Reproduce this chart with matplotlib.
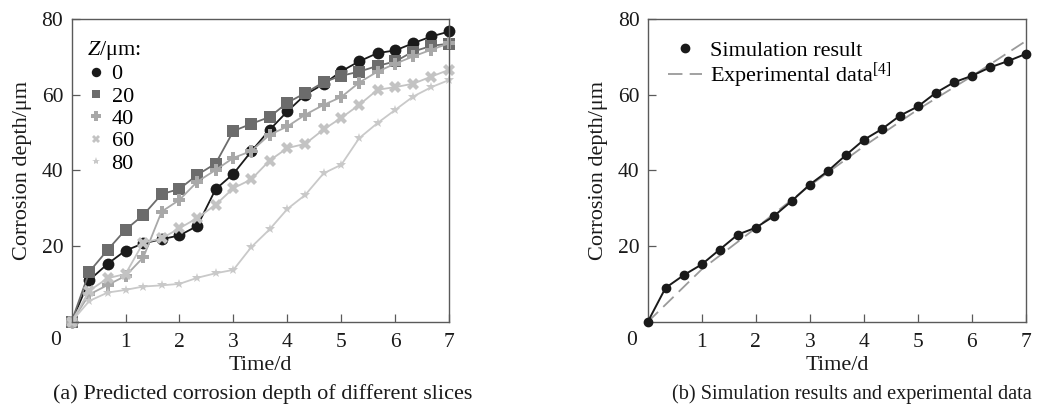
import numpy as np
import matplotlib
matplotlib.use("Agg")
import matplotlib.pyplot as plt
from matplotlib.lines import Line2D
from matplotlib.transforms import ScaledTranslation

plt.rcParams['font.family'] = ['Liberation Serif', 'DejaVu Serif']
plt.rcParams['mathtext.fontset'] = 'custom'
plt.rcParams['mathtext.rm'] = 'Liberation Serif'
plt.rcParams['mathtext.it'] = 'Liberation Serif:italic'

# ---- data ----
time_d = [0, 0.33, 0.67, 1, 1.33, 1.67, 2, 2.33, 2.67, 3, 3.33, 3.67,
          4, 4.33, 4.67, 5, 5.33, 5.67, 6, 6.33, 6.67, 7]

z0 = [0, 11.0, 15.3, 18.8, 20.7, 21.8, 22.8, 25.3, 35.0, 39.1, 45.0, 50.7,
      55.6, 60.0, 62.8, 66.2, 68.8, 71.0, 71.7, 73.6, 75.4, 76.7]
z20 = [0, 13.2, 19.0, 24.3, 28.2, 33.7, 35.1, 38.8, 41.8, 50.4, 52.3, 54.1,
       57.9, 60.4, 63.3, 65.0, 66.1, 67.6, 68.8, 71.4, 72.9, 73.5]
z40 = [0, 7.2, 9.7, 12.1, 17.0, 29.1, 32.2, 37.0, 40.1, 43.3, 45.1, 49.4,
       51.6, 54.7, 57.3, 59.4, 63.2, 66.1, 68.2, 70.1, 71.9, 73.6]
z60 = [0, 8.2, 11.5, 12.6, 20.9, 22.0, 24.7, 27.4, 30.9, 35.3, 37.6, 42.6,
       45.9, 47.0, 50.8, 53.9, 57.3, 61.3, 62.0, 62.9, 64.8, 66.6]
z80 = [0, 5.5, 7.7, 8.4, 9.3, 9.6, 10.0, 11.6, 12.8, 13.7, 19.7, 24.4,
       29.8, 33.5, 39.2, 41.5, 48.5, 52.5, 56.0, 59.5, 62.0, 63.9]
z_labels = ['0', '20', '40', '60', '80']

sim = [0, 9.0, 12.4, 15.2, 19.1, 23.1, 24.9, 27.9, 32.0, 36.3, 39.8, 44.1,
       48.1, 50.9, 54.5, 56.9, 60.5, 63.3, 65.0, 67.2, 68.9, 70.8]
exp_time = [0, 1, 2, 3, 4, 5, 6, 7]
exp_val = [0, 13.9, 24.8, 36.0, 46.4, 56.1, 64.9, 74.2]

xticks = [1, 2, 3, 4, 5, 6, 7]
yticks = [20, 40, 60, 80]

# ---- styles ----
series = [z0, z20, z40, z60, z80]
colors = ['#1a1a1a', '#6c6c6c', '#a8a8a8', '#c3c3c3', '#c9c9c9']
markers = ['o', 's', 'P', 'X', '*']
msizes = [8.5, 8, 8.5, 8, 7.5]

fig = plt.figure(figsize=(10.4, 4.16), dpi=100)
ax1 = fig.add_axes([0.0688, 0.2267, 0.3632, 0.7276])
ax2 = fig.add_axes([0.6228, 0.2260, 0.3637, 0.7283])

FS = 16
TFS = 15.5
spine_c = '#5a5a5a'
txt_c = '#1a1a1a'

def style(ax):
    ax.set_xlim(0, 7)
    ax.set_ylim(0, 80)
    ax.set_xticks(xticks)
    ax.set_yticks(yticks)
    ax.tick_params(direction='in', length=6, width=0.9, color=spine_c,
                   labelsize=TFS, labelcolor=txt_c)
    ax.tick_params(axis='y', pad=6)
    ax.tick_params(axis='x', pad=8)
    for s in ax.spines.values():
        s.set_color(spine_c)
        s.set_linewidth(1.0)
    ax.set_xlabel('Time/d', fontsize=FS, color=txt_c)
    ax.set_ylabel('Corrosion depth/μm', fontsize=FS, color=txt_c)
    ax.xaxis.set_label_coords(0.5, -0.113)
    ax.yaxis.set_label_coords(-0.106, 0.5)
    off = ScaledTranslation(-16 / 100, -19 / 100, fig.dpi_scale_trans)
    ax.text(0, 0, '0', transform=ax.transAxes + off, ha='center', va='center',
            fontsize=TFS, color=txt_c)

style(ax1)
style(ax2)

for y, c, m, ms in zip(series, colors, markers, msizes):
    ax1.plot(time_d, y, color=c, lw=1.3, marker=m, ms=ms,
             markeredgewidth=0, clip_on=False)

handles = [Line2D([], [], linestyle='none', marker=m, color=c, ms=ms * 0.8,
                  markeredgewidth=0)
           for c, m, ms in zip(colors, markers, msizes)]
leg = ax1.legend(handles, z_labels, title='$Z$/μm:', loc='upper left',
                 bbox_to_anchor=(0.0, 0.985), frameon=False, fontsize=FS,
                 title_fontsize=FS, handlelength=0.8, handletextpad=0.3,
                 labelspacing=0.08, borderaxespad=0.3, alignment='left')

ax2.plot(exp_time, exp_val, color='#9a9a9a', lw=1.3, dashes=(8, 4),
         label='Experimental data$^{\\mathregular{[4]}}$', zorder=2)
ax2.plot(time_d, sim, color='#1a1a1a', lw=1.4, marker='o', ms=6,
         label='Simulation result', clip_on=False, zorder=3)
h, l = ax2.get_legend_handles_labels()
ax2.legend([Line2D([], [], linestyle='none', marker='o', ms=6, color='#1a1a1a'),
            Line2D([], [], color='#9a9a9a', lw=1.3, dashes=(8, 4))],
           ['Simulation result', 'Experimental data$^{[4]}$'],
           loc='upper left', frameon=False, fontsize=16,
           handlelength=1.55, handletextpad=0.35, labelspacing=0.0,
           bbox_to_anchor=(0.0, 0.995))

fig.text(0.253, 0.052, '(a) Predicted corrosion depth of different slices',
         ha='center', va='center', fontsize=FS, color=txt_c)
fig.text(0.8188, 0.052, '(b) Simulation results and experimental data',
         ha='center', va='center', fontsize=14.6, color=txt_c)

fig.savefig('out.png', dpi=100)
